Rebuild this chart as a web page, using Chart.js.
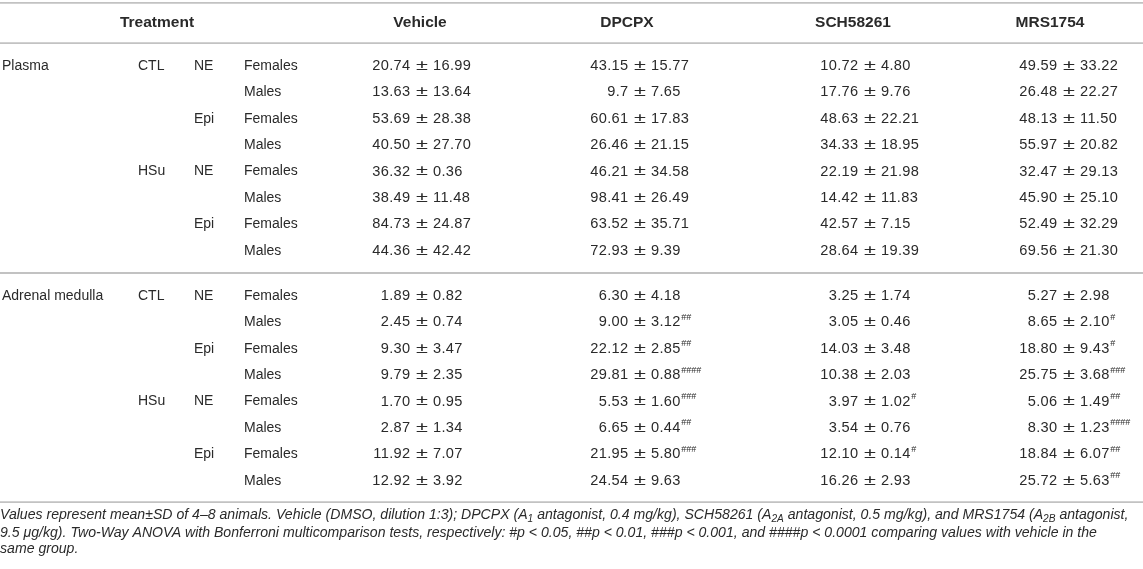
<!DOCTYPE html>
<html>
<head>
<meta charset="utf-8">
<script src="https://cdn.jsdelivr.net/npm/chart.js@4.4.1/dist/chart.umd.min.js"></script>
<style>
  html, body { margin: 0; padding: 0; background: #fff; }
  #wrap { width: 1143px; height: 569px; position: relative; }
</style>
</head>
<body>
<div id="wrap"><canvas id="table"></canvas></div>
<script>
// ── Table data ────────────────────────────────────────────────────────────────

const tissues    = ['Plasma', 'Adrenal medulla'];
const diets      = ['CTL', 'HSu'];
const amines     = ['NE', 'Epi'];
const sexes      = ['Females', 'Males'];
const treatments = ['Vehicle', 'DPCPX', 'SCH58261', 'MRS1754'];

// values kept as printed (mean, SD) – 16 rows: Plasma x8, Adrenal medulla x8
const vehicleMean = ['20.74', '13.63', '53.69', '40.50', '36.32', '38.49', '84.73', '44.36',
                     '1.89', '2.45', '9.30', '9.79', '1.70', '2.87', '11.92', '12.92'];
const vehicleSD   = ['16.99', '13.64', '28.38', '27.70', '0.36', '11.48', '24.87', '42.42',
                     '0.82', '0.74', '3.47', '2.35', '0.95', '1.34', '7.07', '3.92'];
const vehicleSig  = ['', '', '', '', '', '', '', '', '', '', '', '', '', '', '', ''];

const dpcpxMean = ['43.15', '9.7', '60.61', '26.46', '46.21', '98.41', '63.52', '72.93',
                   '6.30', '9.00', '22.12', '29.81', '5.53', '6.65', '21.95', '24.54'];
const dpcpxSD   = ['15.77', '7.65', '17.83', '21.15', '34.58', '26.49', '35.71', '9.39',
                   '4.18', '3.12', '2.85', '0.88', '1.60', '0.44', '5.80', '9.63'];
const dpcpxSig  = ['', '', '', '', '', '', '', '',
                   '', '##', '##', '####', '###', '##', '###', ''];

const schMean = ['10.72', '17.76', '48.63', '34.33', '22.19', '14.42', '42.57', '28.64',
                 '3.25', '3.05', '14.03', '10.38', '3.97', '3.54', '12.10', '16.26'];
const schSD   = ['4.80', '9.76', '22.21', '18.95', '21.98', '11.83', '7.15', '19.39',
                 '1.74', '0.46', '3.48', '2.03', '1.02', '0.76', '0.14', '2.93'];
const schSig  = ['', '', '', '', '', '', '', '',
                 '', '', '', '', '#', '', '#', ''];

const mrsMean = ['49.59', '26.48', '48.13', '55.97', '32.47', '45.90', '52.49', '69.56',
                 '5.27', '8.65', '18.80', '25.75', '5.06', '8.30', '18.84', '25.72'];
const mrsSD   = ['33.22', '22.27', '11.50', '20.82', '29.13', '25.10', '32.29', '21.30',
                 '2.98', '2.10', '9.43', '3.68', '1.49', '1.23', '6.07', '5.63'];
const mrsSig  = ['', '', '', '', '', '', '', '',
                 '', '#', '#', '###', '##', '####', '##', '##'];

const footnote = [
  'Values represent mean±SD of 4–8 animals. Vehicle (DMSO, dilution 1:3); DPCPX (A_{1} antagonist, 0.4 mg/kg), SCH58261 (A_{2A} antagonist, 0.5 mg/kg), and MRS1754 (A_{2B} antagonist,',
  '9.5 μg/kg). Two-Way ANOVA with Bonferroni multicomparison tests, respectively: #p < 0.05, ##p < 0.01, ###p < 0.001, and ####p < 0.0001 comparing values with vehicle in the',
  'same group.',
];

// ── Layout (scale units: x = page px, y = row index) ─────────────────────────

const FONT      = "'Liberation Sans', Arial, Helvetica, sans-serif";
const TEXT      = '#2a2a2a';
const RULE      = '#c2c2c2';
const COL_X     = { tissue: 2, diet: 138, amine: 194, sex: 244, head: 157 };
const PM_X      = [422, 640, 870, 1069];     // ± anchor of each treatment column
const PM_GAP    = 11.5;                      // px from ± centre to mean / SD
const HEAD_X    = [420, 627, 853, 1050];
const Y_MIN     = -2.5, Y_MAX = 19.05;
const SECTION_GAP = 0.71;
const HEAD_Y    = -1.64;
const RULES_Y   = [-2.39, -0.87, 7.84, 16.52];
const NOTE_Y    = [17.01, 17.68, 18.30];

const rowY = i => i + (i >= 8 ? SECTION_GAP : 0);

// ── Build cell datasets ───────────────────────────────────────────────────────

function textColumn(x, rows, texts, opts = {}) {
  return {
    type: 'scatter',
    data: rows.map(r => ({ x, y: r })),
    pointRadius: 0,
    cell: Object.assign({ texts, align: 'left', weight: '400', style: 'normal', size: 14 }, opts),
  };
}

const tissueRows = [], tissueTxt = [];
const dietRows = [], dietTxt = [];
const amineRows = [], amineTxt = [];
const sexRows = [], sexTxt = [];
tissues.forEach((t, ti) => diets.forEach((d, di) => amines.forEach((a, ai) => sexes.forEach((s, si) => {
  const i = ti * 8 + di * 4 + ai * 2 + si;
  if (di === 0 && ai === 0 && si === 0) { tissueRows.push(rowY(i)); tissueTxt.push(t); }
  if (ai === 0 && si === 0) { dietRows.push(rowY(i)); dietTxt.push(d); }
  if (si === 0) { amineRows.push(rowY(i)); amineTxt.push(a); }
  sexRows.push(rowY(i)); sexTxt.push(s);
}))));

const valueCols = [
  [vehicleMean, vehicleSD, vehicleSig],
  [dpcpxMean,   dpcpxSD,   dpcpxSig],
  [schMean,     schSD,     schSig],
  [mrsMean,     mrsSD,     mrsSig],
];
const allRows = vehicleMean.map((_, i) => rowY(i));

const datasets = [];

// horizontal rules
RULES_Y.forEach(y => datasets.push({
  type: 'line',
  data: [{ x: 0, y }, { x: 1143, y }],
  borderColor: RULE,
  borderWidth: 1.8,
  pointRadius: 0,
}));

// header row
datasets.push(textColumn(COL_X.head, [HEAD_Y], ['Treatment'], { align: 'center', weight: '700', size: 15.5 }));
treatments.forEach((t, k) =>
  datasets.push(textColumn(HEAD_X[k], [HEAD_Y], [t], { align: 'center', weight: '700', size: 15.5 })));

// stub columns
datasets.push(textColumn(COL_X.tissue, tissueRows, tissueTxt));
datasets.push(textColumn(COL_X.diet,   dietRows,   dietTxt));
datasets.push(textColumn(COL_X.amine,  amineRows,  amineTxt));
datasets.push(textColumn(COL_X.sex,    sexRows,    sexTxt));

// value columns, aligned on the ± sign
valueCols.forEach(([m, sd, sig], k) =>
  datasets.push(textColumn(PM_X[k], allRows, m.map((v, i) => ({ mean: v, sd: sd[i], sig: sig[i] })), { align: 'pm', size: 14.6 })));

// footnote
datasets.push(textColumn(0, NOTE_Y, footnote, { style: 'italic', size: 14.1 }));

// ── Text drawing ──────────────────────────────────────────────────────────────

function drawRich(ctx, str, x, y, size, style, weight) {
  const parts = str.split(/(_\{[^}]*\}|\^\{[^}]*\})/);
  parts.forEach(p => {
    if (!p) return;
    const sub = p.startsWith('_{'), sup = p.startsWith('^{');
    const t = (sub || sup) ? p.slice(2, -1) : p;
    const s = (sub || sup) ? size * 0.72 : size;
    ctx.font = `${style} ${weight} ${s}px ${FONT}`;
    const dy = sub ? size * 0.3 : sup ? -size * 0.38 : 0;
    ctx.fillText(t, x, y + dy);
    x += ctx.measureText(t).width;
  });
}

function drawValue(ctx, item, x, y, c) {
  ctx.font = `${c.style} ${c.weight} ${c.size}px ${FONT}`;
  ctx.letterSpacing = '0.35px';
  ctx.textAlign = 'right';
  ctx.fillText(item.mean, x - PM_GAP, y);
  ctx.textAlign = 'left';
  ctx.fillText(item.sd, x + PM_GAP - 0.5, y);
  const sdW = ctx.measureText(item.sd).width;
  ctx.letterSpacing = '0px';
  // wide plus-minus sign
  ctx.save();
  ctx.font = `${c.style} ${c.weight} 14px ${FONT}`;
  ctx.translate(x, y);
  ctx.scale(1.55, 1);
  ctx.textAlign = 'center';
  ctx.fillText('±', 0, 0);
  ctx.restore();
  if (item.sig) {
    ctx.font = `${c.style} ${c.weight} 9px ${FONT}`;
    ctx.textAlign = 'left';
    ctx.fillText(item.sig, x + PM_GAP + sdW, y - 5);
  }
}

const tableTextPlugin = {
  id: 'tableText',
  afterDatasetsDraw(chart) {
    const { ctx } = chart;
    ctx.save();
    ctx.fillStyle = TEXT;
    ctx.textBaseline = 'middle';
    chart.data.datasets.forEach((ds, di) => {
      if (!ds.cell) return;
      const c = ds.cell;
      chart.getDatasetMeta(di).data.forEach((pt, i) => {
        const item = c.texts[i];
        ctx.textAlign = 'left';
        ctx.font = `${c.style} ${c.weight} ${c.size}px ${FONT}`;
        if (c.align === 'pm') {
          drawValue(ctx, item, pt.x, pt.y, c);
        } else if (c.align === 'center') {
          const w = ctx.measureText(item).width;
          drawRich(ctx, item, pt.x - w / 2, pt.y, c.size, c.style, c.weight);
        } else {
          drawRich(ctx, item, pt.x, pt.y, c.size, c.style, c.weight);
        }
      });
    });
    ctx.restore();
  },
};

new Chart(document.getElementById('table'), {
  data: { datasets },
  options: {
    responsive: true,
    maintainAspectRatio: false,
    animation: false,
    events: [],
    layout: { padding: 0 },
    scales: {
      x: { type: 'linear', min: 0, max: 1143, display: false },
      y: { type: 'linear', min: Y_MIN, max: Y_MAX, reverse: true, display: false },
    },
    plugins: { legend: { display: false }, tooltip: { enabled: false } },
  },
  plugins: [tableTextPlugin],
});
</script>
</body>
</html>
